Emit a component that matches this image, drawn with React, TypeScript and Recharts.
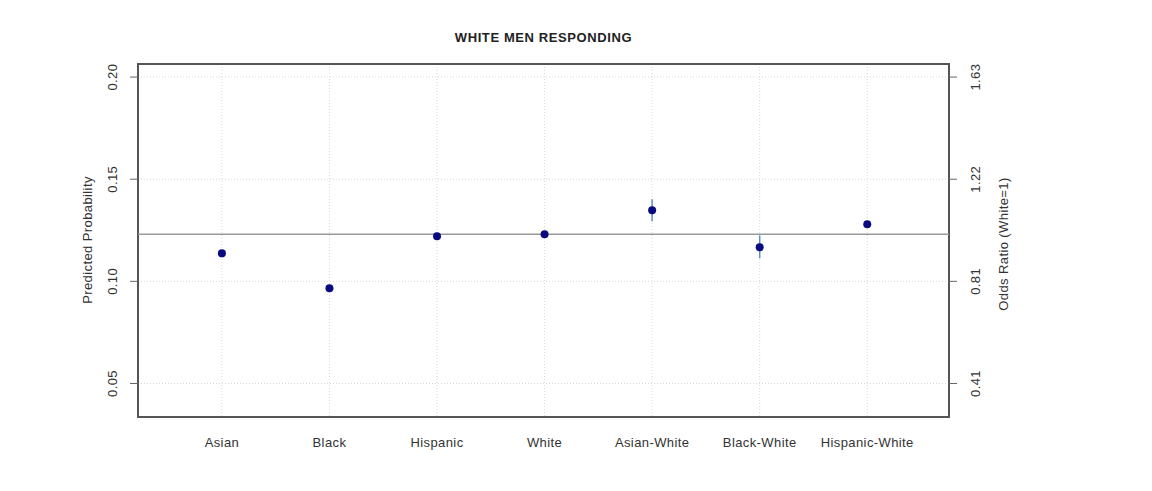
import React from 'react';
import {
  ComposedChart,
  Scatter,
  ErrorBar,
  XAxis,
  YAxis,
  CartesianGrid,
  ReferenceLine,
  ReferenceArea,
} from 'recharts';

const categories = ['Asian', 'Black', 'Hispanic', 'White', 'Asian-White', 'Black-White', 'Hispanic-White'];
const probability = [0.1137, 0.0966, 0.1221, 0.123, 0.1348, 0.1167, 0.1279];
const errorLow = [0, 0, 0, 0, 0.0054, 0.0054, 0.0015];
const errorHigh = [0, 0, 0, 0, 0.0054, 0.0058, 0.0015];
const probTicks = [0.05, 0.1, 0.15, 0.2];
const oddsLabels = ['0.41', '0.81', '1.22', '1.63'];
const baseline = probability[3];

const data = categories.map((name, i) => ({
  x: i + 1,
  name,
  y: probability[i],
  err: [errorLow[i], errorHigh[i]],
}));

const X_DOMAIN: [number, number] = [0.22, 7.76];
const Y_DOMAIN: [number, number] = [0.0336, 0.2064];
const textColor = '#333';
const fontFamily = '"Liberation Sans", Arial, sans-serif';

const RotatedTick = (props: any) => {
  const { x, y, payload, dx, labels } = props;
  const label = labels ? labels[probTicks.indexOf(payload.value)] : payload.value.toFixed(2);
  const tx = x + dx;
  return (
    <text
      x={tx}
      y={y}
      transform={`rotate(-90, ${tx}, ${y})`}
      textAnchor="middle"
      fontSize={13}
      letterSpacing={0.4}
      fill={textColor}
      fontFamily={fontFamily}
    >
      {label}
    </text>
  );
};

const CategoryTick = (props: any) => {
  const { x, y, payload } = props;
  return (
    <text x={x} y={y + 22} textAnchor="middle" fontSize={13} letterSpacing={0.4} fill={textColor} fontFamily={fontFamily}>
      {categories[payload.value - 1]}
    </text>
  );
};

const App = () => {
  return (
    <div style={{ position: 'absolute', left: 0, top: 0, width: 1152, height: 491, background: '#fff', fontFamily }}>
      <div
        style={{
          position: 'absolute',
          top: 30,
          left: 138,
          width: 811,
          textAlign: 'center',
          fontSize: 13,
          fontWeight: 'bold',
          letterSpacing: 0.6,
          color: '#222',
        }}
      >
        WHITE MEN RESPONDING
      </div>
      <div
        style={{
          position: 'absolute',
          left: 87,
          top: 240,
          transform: 'translate(-50%, -50%) rotate(-90deg)',
          whiteSpace: 'nowrap',
          fontSize: 13,
          letterSpacing: 0.4,
          color: textColor,
        }}
      >
        Predicted Probability
      </div>
      <div
        style={{
          position: 'absolute',
          left: 1003,
          top: 244,
          transform: 'translate(-50%, -50%) rotate(-90deg)',
          whiteSpace: 'nowrap',
          fontSize: 13,
          letterSpacing: 0.4,
          color: textColor,
        }}
      >
        Odds Ratio (White=1)
      </div>
      <ComposedChart width={1152} height={491} margin={{ top: 64, right: 143, bottom: 44, left: 78 }}>
        <CartesianGrid yAxisId="left" stroke="#d8d8d8" strokeDasharray="1 2" />
        <XAxis
          type="number"
          dataKey="x"
          domain={X_DOMAIN}
          ticks={[1, 2, 3, 4, 5, 6, 7]}
          allowDataOverflow
          axisLine={false}
          tickLine={false}
          height={30}
          tick={<CategoryTick />}
        />
        <YAxis
          yAxisId="left"
          type="number"
          domain={Y_DOMAIN}
          ticks={probTicks}
          allowDataOverflow
          width={60}
          axisLine={false}
          tickSize={8}
          tickLine={{ stroke: '#666' }}
          tick={<RotatedTick dx={-10.5} />}
        />
        <YAxis
          yAxisId="right"
          orientation="right"
          type="number"
          domain={Y_DOMAIN}
          ticks={probTicks}
          allowDataOverflow
          width={60}
          axisLine={false}
          tickSize={8}
          tickLine={{ stroke: '#666' }}
          tick={<RotatedTick dx={21.5} labels={oddsLabels} />}
        />
        <ReferenceArea
          yAxisId="left"
          x1={X_DOMAIN[0]}
          x2={X_DOMAIN[1]}
          y1={Y_DOMAIN[0]}
          y2={Y_DOMAIN[1]}
          fill="none"
          stroke="#555"
          strokeWidth={2}
          ifOverflow="visible"
        />
        <ReferenceLine yAxisId="left" y={baseline} stroke="#999" strokeWidth={1.5} />
        <Scatter yAxisId="left" data={data} dataKey="y" fill="#0a0a80" isAnimationActive={false} shape={(p: any) => <circle cx={p.cx} cy={p.cy} r={4} fill="#0a0a80" />}>
          <ErrorBar dataKey="err" direction="y" width={0} stroke="#5d8fc4" strokeWidth={1.5} />
        </Scatter>
      </ComposedChart>
    </div>
  );
};

export default App;
